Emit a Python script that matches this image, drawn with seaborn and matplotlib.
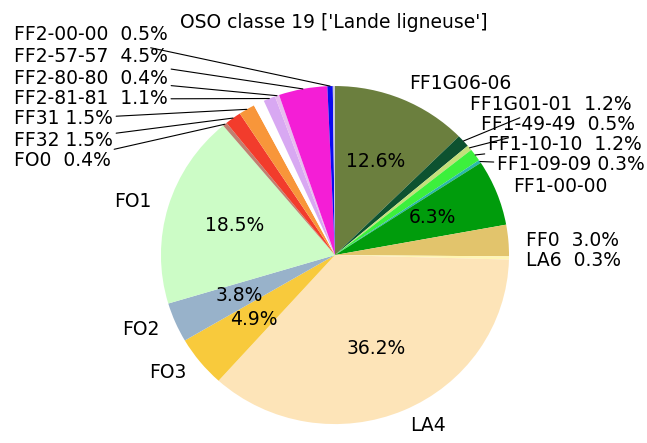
import numpy as np
import seaborn as sns
import matplotlib.pyplot as plt

sns.set_style("white")
plt.rcParams['font.family'] = ['DejaVu Sans']
plt.rcParams['text.color'] = 'black'

# slices, clockwise from the top
classes = ['FF1G06-06', 'FF1G01-01', 'FF1-49-49', 'FF1-10-10', 'FF1-09-09',
           'FF1-00-00', 'FF0', 'LA6', 'LA4', 'FO3', 'FO2', 'FO1', 'FO0',
           'FF32', 'FF31', '', 'FF2-81-81', 'FF2-80-80', 'FF2-57-57',
           'FF2-00-00', 'OSO classe 19']
shares = [12.6, 1.2, 0.5, 1.2, 0.3, 6.3, 3.0, 0.3, 36.2, 4.9, 3.8, 18.5, 0.4,
          1.5, 1.5, 1.0, 1.1, 0.4, 4.5, 0.5, 0.2]
colors = ['#6b7f3e', '#0d5230', '#c4e07a', '#3cf03c', '#2ab8a8', '#009c0c',
          '#e2c46c', '#fff6b4', '#fde4b8', '#f8ca3c', '#98b2ca', '#ccfcc6',
          '#c08070', '#f23c2c', '#f8963a', '#ffffff', '#d8a8f2', '#e8bcf0',
          '#f41ed6', '#0a0af0', '#c8c8d8']

inside = ['FF1G06-06', 'FF1-00-00', 'LA4', 'FO3', 'FO2', 'FO1']

# outside labels with leader lines: text position in figure pixels
outside = {
    'FF2-00-00': ('FF2-00-00  0.5%', 14, 35, 'left', True),
    'FF2-57-57': ('FF2-57-57  4.5%', 14, 57, 'left', True),
    'FF2-80-80': ('FF2-80-80  0.4%', 14, 78, 'left', True),
    'FF2-81-81': ('FF2-81-81  1.1%', 14, 99, 'left', True),
    'FF31': ('FF31 1.5%', 14, 119, 'left', True),
    'FF32': ('FF32 1.5%', 14, 140, 'left', True),
    'FO0': ('FO0  0.4%', 14, 161, 'left', True),
    'FF1G01-01': ('FF1G01-01  1.2%', 470, 105, 'left', True),
    'FF1-49-49': ('FF1-49-49  0.5%', 481, 125, 'left', True),
    'FF1-10-10': ('FF1-10-10  1.2%', 488, 145, 'left', True),
    'FF1-09-09': ('FF1-09-09 0.3%', 497, 165, 'left', True),
    'FF0': ('FF0  3.0%', 526, 241, 'left', False),
    'LA6': ('LA6  0.3%', 526, 261, 'left', False),
    'OSO classe 19': ("OSO classe 19 ['Lande ligneuse']", 334, 22, 'center', False),
}

W, H = 647, 443
fig = plt.figure(figsize=(W / 100, H / 100), dpi=100)
ax = fig.add_axes([0, 0, 1, 1])

labels = [c if c in inside else '' for c in classes]
pcts = iter([f'{s:.1f}%' if c in inside else '' for c, s in zip(classes, shares)])

wedges, texts, autotexts = ax.pie(
    shares, labels=labels, colors=colors, startangle=90, counterclock=False,
    autopct=lambda p: next(pcts), pctdistance=0.6, labeldistance=1.1,
    wedgeprops={'linewidth': 0, 'edgecolor': 'none'},
    textprops={'fontsize': 13.5, 'color': 'black'})

for w, c in zip(wedges, classes):
    if c not in outside:
        continue
    txt, px, py, ha, line = outside[c]
    ang = np.deg2rad((w.theta1 + w.theta2) / 2)
    xy = (np.cos(ang), np.sin(ang))
    if line:
        ax.annotate(txt, xy=xy, xytext=(px / W, 1 - py / H),
                    textcoords='figure fraction', ha=ha, va='center',
                    fontsize=13.5, color='black',
                    arrowprops=dict(arrowstyle='-', color='black', lw=0.8,
                                    shrinkA=0, shrinkB=0))
    else:
        fig.text(px / W, 1 - py / H, txt, ha=ha, va='center', fontsize=13.5,
                 color='black')

ax.set_xlim(-1.925, 1.793)
ax.set_ylim(-1.112, 1.509)
ax.set_aspect('auto')
ax.axis('off')

fig.savefig('out.png', dpi=100)
